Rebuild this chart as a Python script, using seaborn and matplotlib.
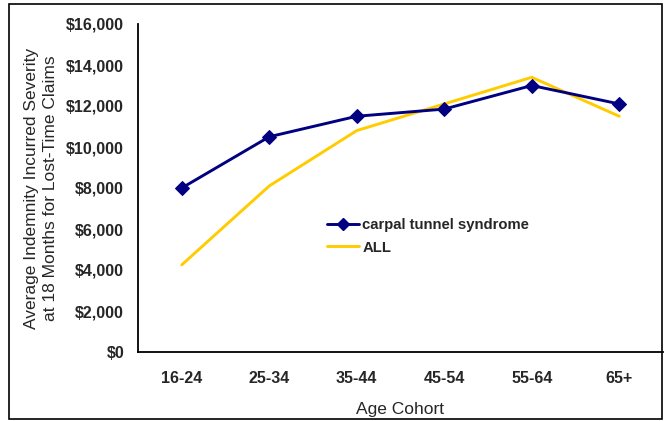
import matplotlib
matplotlib.use("Agg")
import matplotlib.pyplot as plt
import seaborn as sns
import pandas as pd
from matplotlib.patches import Rectangle
from matplotlib.lines import Line2D

categories = ["16-24", "25-34", "35-44", "45-54", "55-64", "65+"]
cts_values = [8000, 10500, 11500, 11850, 13000, 12100]
all_values = [4250, 8100, 10800, 12100, 13400, 11500]
yticks = [0, 2000, 4000, 6000, 8000, 10000, 12000, 14000, 16000]

sns.set_style("white")
plt.rcParams['font.family'] = ['Liberation Sans', 'DejaVu Sans']

fig = plt.figure(figsize=(6.70, 4.21), dpi=100)
ax = fig.add_axes([138/670, 1 - 352/421, (663-138)/670, (352-24)/421])

df_cts = pd.DataFrame({"Age Cohort": categories, "value": cts_values})
df_all = pd.DataFrame({"Age Cohort": categories, "value": all_values})

navy = "#000080"
yellow = "#FFCC00"

sns.lineplot(data=df_all, x="Age Cohort", y="value", ax=ax, color=yellow,
             linewidth=2.1, sort=False, legend=False)
sns.lineplot(data=df_cts, x="Age Cohort", y="value", ax=ax, color=navy,
             linewidth=2.1, marker="D", markersize=7, markeredgecolor=navy,
             sort=False, legend=False)

ax.set_xlim(-0.5, 5.5)
ax.set_ylim(0, 16000)
ax.set_yticks(yticks)
ax.set_yticklabels([f"${v:,.0f}" for v in yticks], fontsize=11.5, fontweight="bold")
ax.set_xticks(range(len(categories)))
ax.set_xticklabels(categories, fontsize=11.5, fontweight="bold")
ax.tick_params(axis='y', length=0, pad=10)
ax.tick_params(axis='x', length=0, pad=14)

for s in ["top", "right"]:
    ax.spines[s].set_visible(False)
for s in ["left", "bottom"]:
    ax.spines[s].set_color("black")
    ax.spines[s].set_linewidth(1.3)

ax.set_xlabel("Age Cohort", fontsize=12.5, labelpad=11)
ax.set_ylabel("Average Indemnity Incurred Severity\nat 18 Months for Lost-Time Claims",
              fontsize=12.5, labelpad=6, linespacing=1.3)

handles = [Line2D([], [], color=navy, linewidth=2.1, marker="D", markersize=6),
           Line2D([], [], color=yellow, linewidth=2.1)]
ax.legend(handles, ["carpal tunnel syndrome", "ALL"], frameon=False,
          loc="upper left", bbox_to_anchor=(0.334, 0.45),
          prop={"size": 10.7, "weight": "bold"}, handlelength=2.2,
          handletextpad=0.2, labelspacing=0.6)

fig.patches.append(Rectangle((9/670, 1 - 419/421), (662-9)/670, (419-4)/421,
                             transform=fig.transFigure, fill=False,
                             edgecolor="black", linewidth=1.2))

fig.savefig("out.png", dpi=100)
